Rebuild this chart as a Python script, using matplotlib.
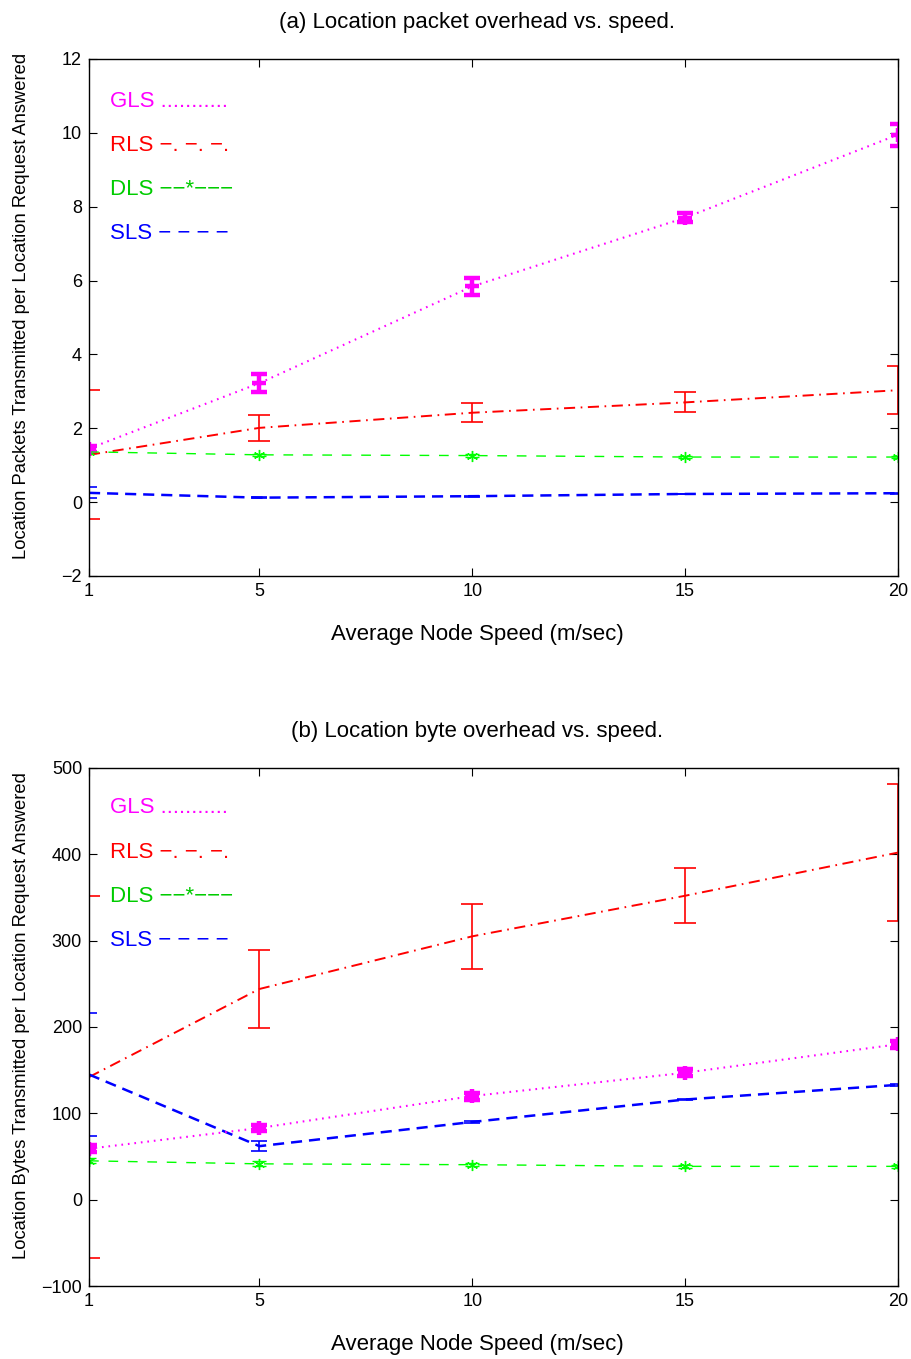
import numpy as np
import matplotlib.pyplot as plt

plt.rcParams['font.family'] = ['Liberation Sans', 'DejaVu Sans']
plt.rcParams['lines.scale_dashes'] = False
plt.rcParams['axes.linewidth'] = 1.0

speeds = [1, 5, 10, 15, 20]

# (a) packets per answered request
gls_pkt = [1.45, 3.22, 5.84, 7.70, 9.95]
gls_pkt_err = [0.08, 0.25, 0.22, 0.12, 0.30]
rls_pkt = [1.28, 2.01, 2.42, 2.70, 3.03]
rls_pkt_err = [1.75, 0.35, 0.26, 0.27, 0.65]
dls_pkt = [1.36, 1.28, 1.26, 1.22, 1.22]
dls_pkt_err = [0.03, 0.03, 0.03, 0.03, 0.03]
sls_pkt = [0.25, 0.12, 0.16, 0.22, 0.24]
sls_pkt_err = [0.15, 0.01, 0.01, 0.01, 0.01]

# (b) bytes per answered request
gls_byte = [59, 83, 120, 147, 180]
gls_byte_err = [4, 4, 4, 4, 4]
rls_byte = [142, 244, 305, 352, 402]
rls_byte_err = [210, 45, 38, 32, 79]
dls_byte = [45, 41.5, 40.5, 38.6, 38.6]
dls_byte_err = [3, 3, 2, 2, 2]
sls_byte = [145, 62, 90, 116, 133]
sls_byte_err = [71, 6, 1, 1, 1]

M = '\u2212'
legend_names = ['GLS ...........',
                'RLS ' + M + '. ' + M + '. ' + M + '.',
                'DLS ' + M + M + '*' + M + M + M,
                'SLS ' + M + ' ' + M + ' ' + M + ' ' + M]
colors = ['#ff00ff', '#ff0000', '#00cc00', '#0000ff']

asterisk = (6, 2, 0)


def draw_panel(ax, series, title, ylabel, ylim, yticks, legend_y):
    gls, gls_e, rls, rls_e, dls, dls_e, sls, sls_e = series
    ax.errorbar(speeds, rls, yerr=rls_e, color='#ff0000', lw=1.4,
                dashes=(8, 4, 1.2, 4), capsize=8, elinewidth=1.2, capthick=1.2)
    ax.errorbar(speeds, dls, yerr=dls_e, color='#00ff00', lw=1.0,
                dashes=(7, 7), marker=asterisk, ms=8, mew=1.0,
                capsize=5, elinewidth=1.0)
    ax.errorbar(speeds, sls, yerr=sls_e, color='#0000ff', lw=1.8,
                dashes=(8, 5), capsize=6, elinewidth=1.2, capthick=1.2)
    ax.errorbar(speeds, gls, yerr=gls_e, color='#ff00ff', lw=1.5,
                dashes=(1.2, 3.5), marker='+', ms=10, mew=3.2,
                capsize=5.5, elinewidth=1.5, capthick=1.5)

    for name, c, yy in zip(legend_names, colors, legend_y):
        ax.text(1.5, yy, name, color=c, fontsize=16, va='center', ha='left')

    ax.set_xlim(1, 20)
    ax.set_ylim(*ylim)
    ax.set_xticks(speeds)
    ax.set_yticks(yticks)
    ax.tick_params(direction='in', top=True, right=True, labelsize=13,
                   length=6, pad=5)
    ax.set_title(title, fontsize=16, x=0.4796, pad=22)
    ax.set_xlabel('Average Node Speed (m/sec)', fontsize=16)
    ax.xaxis.set_label_coords(0.4796, -0.092)
    ax.set_ylabel(ylabel, fontsize=13.2)
    ax.yaxis.set_label_coords(-0.073, 0.522)


fig = plt.figure(figsize=(9.12, 13.59), dpi=100)
ax1 = fig.add_axes([0.0976, 0.5762, 0.887, 0.3804])
ax2 = fig.add_axes([0.0976, 0.0537, 0.887, 0.3812])

draw_panel(ax1, (gls_pkt, gls_pkt_err, rls_pkt, rls_pkt_err,
                 dls_pkt, dls_pkt_err, sls_pkt, sls_pkt_err),
           '(a) Location packet overhead vs. speed.',
           'Location Packets Transmitted per Location Request Answered',
           (-2, 12), np.arange(-2, 13, 2), [10.86, 9.65, 8.46, 7.27])

draw_panel(ax2, (gls_byte, gls_byte_err, rls_byte, rls_byte_err,
                 dls_byte, dls_byte_err, sls_byte, sls_byte_err),
           '(b) Location byte overhead vs. speed.',
           'Location Bytes Transmitted per Location Request Answered',
           (-100, 500), np.arange(-100, 501, 100), [454, 402, 351, 300])

fig.savefig('out.png', dpi=100)
